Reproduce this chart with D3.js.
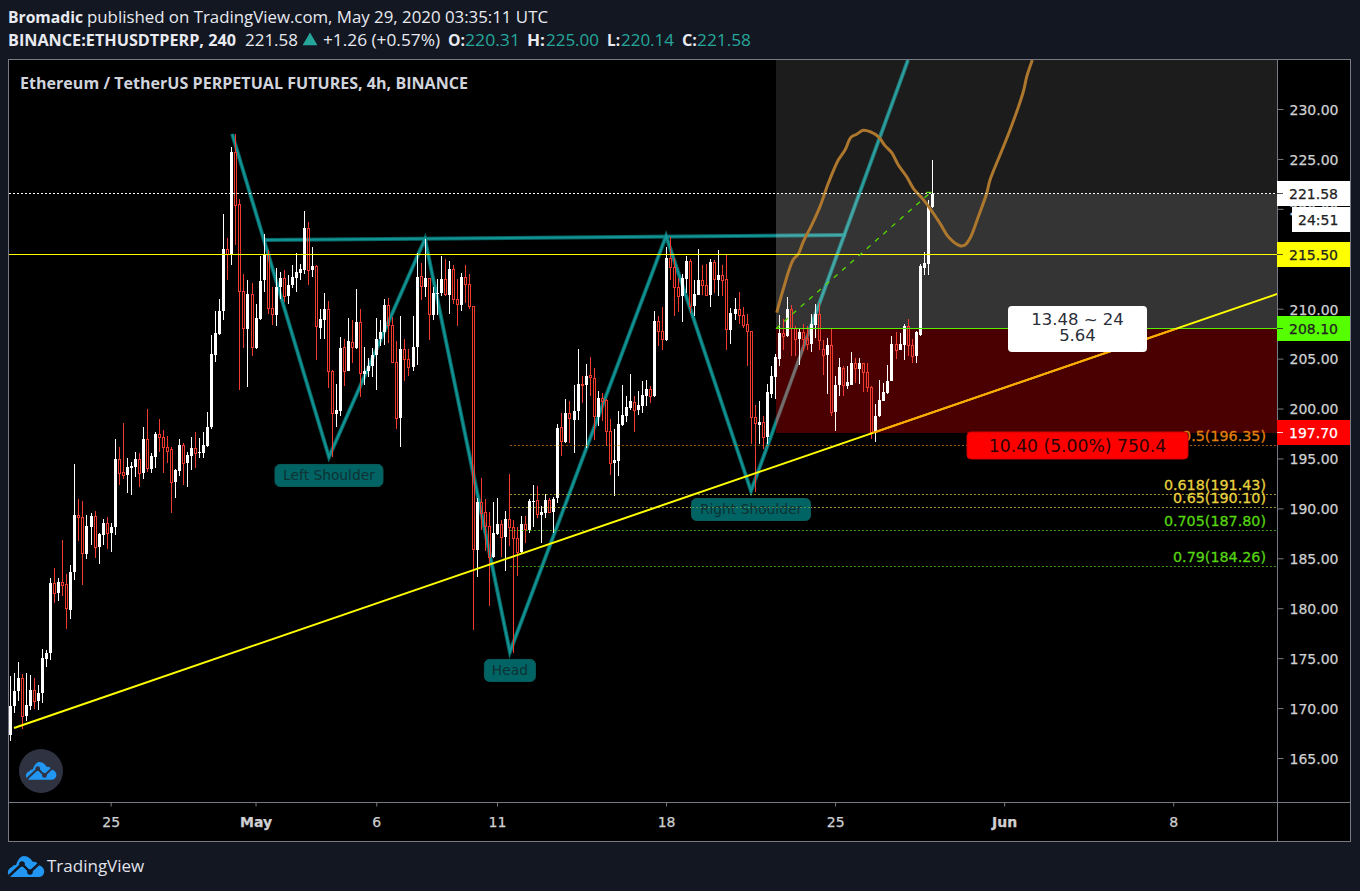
<!DOCTYPE html>
<html><head><meta charset="utf-8">
<script src="https://cdnjs.cloudflare.com/ajax/libs/d3/7.8.5/d3.min.js"></script>
<style>html,body{margin:0;padding:0;background:#131722;overflow:hidden}svg{display:block}</style>
</head><body><svg id="c" width="1360" height="891"></svg>
<script>
const high=[173.28,173.62,174.72,173.52,173.62,173.45,173.12,172.45,176.02,175.95,
183.12,184.12,183.12,186.95,183.55,184.45,194.55,191.02,190.85,189.45,
189.68,189.85,187.62,189.05,189.22,188.62,197.02,196.22,198.62,195.12,
194.78,195.78,195.62,198.22,200.02,195.68,197.78,199.02,197.95,197.35,
196.22,194.02,197.05,196.62,195.78,197.28,197.72,197.12,197.78,199.72,
207.5,209.83,211.1,219.6,217.17,226.27,227.6,221.07,213.6,213.0,
212.67,210.6,215.4,217.6,215.93,212.23,214.2,213.8,214.0,213.5,
214.5,215.67,214.6,219.9,218.8,216.3,214.47,210.1,211.7,210.9,
204.0,202.6,207.27,207.07,209.17,209.0,212.1,210.07,206.23,205.17,
206.17,209.17,209.0,211.07,211.17,209.23,206.9,209.33,207.1,206.1,
209.33,215.67,214.67,217.07,213.17,212.27,213.07,215.4,215.07,214.9,
214.5,213.07,213.67,214.5,213.6,210.4,191.12,193.12,191.02,189.72,
190.72,191.12,188.95,189.88,193.55,188.95,188.28,189.38,189.38,191.02,
192.45,192.35,190.35,191.55,191.12,191.22,198.6,199.67,201.07,200.9,
202.5,206.1,203.33,204.6,205.27,204.17,201.9,201.67,201.07,199.1,
198.1,199.83,202.47,201.33,203.6,201.4,201.83,202.83,203.0,202.4,
209.9,209.4,210.27,216.27,217.27,215.17,213.17,213.6,215.4,215.07,
213.0,216.07,214.5,214.6,215.07,215.0,216.0,214.5,215.5,210.17,
211.13,211.77,210.23,209.57,207.9,200.5,200.83,199.33,202.6,204.33,
205.6,209.5,209.07,211.27,210.5,208.4,208.17,208.57,208.33,209.57,
210.6,210.67,207.0,207.17,208.07,203.33,205.17,204.4,204.4,205.77,
205.17,205.17,204.67,204.67,202.33,200.6,203.0,202.67,204.5,207.4,
207.77,207.67,208.6,209.07,207.07,207.83,214.57,215.77,221.0,225.0];
const low=[166.78,169.62,170.78,168.02,168.78,169.88,170.02,169.88,170.62,174.18,
174.88,180.62,180.85,181.28,178.05,179.05,182.88,186.88,182.45,185.05,
186.45,185.12,184.55,186.45,186.05,185.78,187.45,192.45,193.02,191.68,
191.45,193.28,192.28,193.08,193.78,193.62,194.12,195.78,193.62,194.62,
189.62,191.18,193.35,192.45,192.28,193.95,194.12,195.12,195.12,196.22,
198.1,204.73,207.5,208.93,213.0,214.5,216.5,201.93,206.13,202.23,
205.4,206.1,209.0,211.8,209.6,208.5,208.33,211.1,210.73,210.6,
212.17,211.73,213.0,213.6,212.5,213.3,205.0,207.1,207.03,202.13,
195.23,198.23,199.4,202.4,203.83,204.67,206.1,201.23,202.5,203.23,
203.23,202.0,206.4,206.5,206.67,204.67,198.1,196.2,202.9,203.33,
203.83,204.5,211.0,211.23,207.0,209.0,209.5,211.33,211.33,209.6,
210.6,208.33,209.83,210.67,210.07,177.95,183.18,187.95,185.85,180.35,
185.12,187.45,185.22,183.85,186.35,175.62,183.35,185.62,186.68,187.68,
188.28,189.12,186.68,189.12,189.62,187.62,190.62,195.33,196.67,196.67,
195.6,199.0,200.67,196.17,201.33,196.93,198.4,198.83,196.33,193.4,
191.33,193.33,198.4,198.73,199.93,197.73,199.5,199.67,200.4,200.67,
201.27,206.4,205.93,206.9,213.0,209.33,209.73,208.73,211.67,209.67,
209.33,211.43,211.5,211.33,210.23,211.67,211.4,211.33,206.0,206.6,
209.0,208.57,208.17,204.33,196.57,191.73,196.5,196.0,196.5,201.17,
201.1,204.4,206.0,207.27,205.33,205.33,204.5,205.83,206.0,205.73,
207.17,206.0,203.5,201.6,199.33,197.83,201.33,201.33,202.07,202.43,
202.67,202.6,201.73,201.73,197.07,196.73,199.27,200.83,201.6,202.83,
205.1,205.93,205.0,205.33,204.67,204.67,207.4,213.43,213.5,220.14];
const open=[167.45,170.28,171.78,173.12,169.28,170.35,171.95,170.78,171.62,175.05,
175.62,182.62,181.62,182.72,182.55,179.95,183.68,189.45,189.28,185.55,
188.28,189.35,186.28,187.45,188.62,187.68,188.22,195.02,193.72,193.45,
194.18,194.28,195.02,193.62,197.05,194.05,195.28,197.55,197.22,196.22,
196.05,192.78,193.88,196.45,194.62,195.38,196.12,195.68,195.68,196.38,
198.23,205.5,207.6,209.83,216.1,215.57,225.77,220.6,211.87,208.1,
211.57,206.17,209.1,212.93,215.6,210.17,209.5,212.23,213.2,211.33,
212.43,213.2,213.7,214.0,218.17,213.93,214.4,208.2,209.0,210.07,
203.87,199.6,199.9,206.27,203.9,206.77,206.17,208.77,203.6,203.9,
204.33,205.43,207.07,207.73,210.5,208.5,204.77,199.13,206.1,205.1,
204.23,206.23,213.37,212.27,213.17,209.5,211.6,211.7,213.07,211.5,
214.1,211.07,210.5,213.27,212.57,210.4,185.95,190.72,189.72,188.38,
185.22,187.55,188.52,187.22,189.02,188.28,187.18,185.72,188.52,187.95,
190.78,190.92,189.45,189.68,190.95,189.78,191.17,198.3,196.77,199.7,
199.0,199.83,202.6,202.43,203.5,203.17,199.3,201.17,200.97,197.9,
194.67,194.83,198.5,199.4,200.17,200.77,200.0,200.4,201.33,202.07,
201.33,208.9,207.87,206.93,215.13,214.23,212.27,211.4,213.1,214.9,
210.33,211.5,213.0,212.47,211.5,214.8,213.0,213.47,213.07,208.0,
209.6,210.07,209.47,208.57,207.9,199.27,198.5,198.77,197.23,201.6,
203.23,205.1,207.67,207.33,210.1,208.17,207.1,207.77,207.17,206.57,
208.5,209.57,206.1,205.43,206.5,199.73,202.43,204.17,202.4,202.5,
204.67,204.1,204.67,203.77,202.27,197.73,199.33,200.9,201.7,202.9,
206.57,206.0,206.5,208.33,206.5,205.33,207.5,214.2,214.6,220.31];
const close=[170.35,171.85,173.12,169.28,170.45,171.95,170.78,171.62,175.12,175.62,
182.62,181.62,182.72,182.45,180.08,183.72,189.45,189.28,185.62,188.35,
189.35,186.28,187.52,188.62,187.68,188.28,195.05,193.68,193.48,194.22,
194.35,195.05,193.68,197.05,194.12,195.35,197.55,197.22,196.22,195.88,
192.78,193.95,196.45,194.62,195.45,196.12,195.68,195.72,196.45,198.22,
205.6,207.67,209.9,216.1,215.57,225.8,220.47,211.87,208.13,211.6,
206.23,209.17,212.9,215.6,210.13,209.57,212.3,213.2,211.33,212.5,
213.3,213.8,214.1,218.2,213.93,214.4,208.33,209.1,210.1,203.83,
199.67,200.0,206.17,203.9,206.9,206.27,208.8,203.63,203.9,204.4,
205.5,207.1,207.8,210.5,208.43,204.73,199.13,206.1,205.07,204.27,
206.3,213.3,212.33,213.2,209.53,211.7,211.7,213.07,211.53,214.1,
211.07,210.53,213.27,212.53,210.33,186.02,190.72,189.68,188.38,185.28,
187.62,188.52,187.28,189.02,188.28,187.18,185.78,188.52,188.05,190.85,
190.85,189.52,189.72,190.95,189.78,191.05,198.2,196.83,199.7,199.13,
199.9,202.6,202.5,203.4,203.23,199.33,201.17,200.9,197.83,194.63,
194.9,198.6,199.5,200.27,200.83,200.0,200.5,201.5,202.07,201.33,
208.9,207.83,207.07,215.2,214.23,212.23,211.4,213.2,214.9,210.33,
211.6,213.0,212.43,211.5,214.8,213.07,213.5,213.0,208.07,209.67,
210.07,209.47,208.5,207.83,199.23,198.67,198.77,197.23,201.73,203.33,
205.27,207.7,207.33,210.1,208.17,207.1,207.73,207.1,206.57,208.6,
209.6,206.93,205.43,206.5,199.73,202.5,204.23,202.5,202.8,204.67,
204.17,204.67,203.73,202.23,197.77,199.4,201.0,201.77,202.9,206.57,
206.0,206.6,208.4,206.43,205.33,207.73,214.4,214.67,220.4,221.58];

// Time axis: bar index of each labelled date
const timeTickBars=[25,61,91,121,163,205,247,289];
const timeTickLabels=["25","May","6","11","18","25","Jun","8"];
const priceTicks=[165,170,175,180,185,190,195,200,205,210,215,220,225,230];

// Drawings, as [bar index, price]
const patternPts=[[55.2,227.6],[79.25,195.25],[103.1,217.08],[124.2,175.72],[163.0,217.38],[184.1,191.84],[223.1,235.0]];
const necklinePts=[[63.1,216.98],[207.7,217.48]];
const trendPts=[[1,168.11],[314.8,211.57]];
const projectionPts=[[190.5,209.7],[192.05,211.97],[194.53,214.98],[195.85,215.58],[197.09,216.81],[199.18,218.48],[201.24,220.32],[203.3,222.66],[205.79,224.99],[207.45,225.99],[208.94,227.27],[210.36,227.57],[212.0,227.97],[213.66,227.83],[215.73,227.33],[217.39,226.43],[219.06,225.72],[220.7,224.49],[222.78,223.32],[224.42,222.16],[227.33,220.82],[231.06,218.65],[233.11,217.31],[236.02,216.41],[237.27,216.48],[238.51,217.15],[240.57,219.31],[242.66,221.66],[243.48,222.99],[245.96,225.49],[248.45,227.99],[251.75,231.83],[252.6,233.33],[253.99,235.0]];
const riskLinePts=[[190.3,208.1],[228.6,221.7]];
const riskCapPts=[[227.6,221.75],[229,221.75]];
const fibLevels=["0.5(196.35)","0.618(191.43)","0.65(190.10)","0.705(187.80)","0.79(184.26)"];
const fibPrices=[196.35,191.43,190.10,187.80,184.26];
const fibColors=["#e07f0c","#e8d13f","#e8d13f","#55d411","#55d411"];
const patternLabels=["Left Shoulder","Head","Right Shoulder"];
const patternLabelAt=[[79.25,195.25],[124.2,175.72],[184.1,191.84]];
const patternLabelW=[108,51,119];

const W=1360,H=891,L=9,R=1277,T=60,B=802,AX=1350,TB=841;
const x=d3.scaleLinear().domain([0,230]).range([10,10+4.025*230]);
const y=d3.scaleLinear().domain([165,230]).range([759,110]);
const row=p=>Math.floor(y(p)-.5);
const svg=d3.select("#c");
const DJ="'DejaVu Sans',sans-serif", OS="'Open Sans',sans-serif";

svg.append("rect").attr("width",W).attr("height",H).attr("fill","#131722");
svg.append("rect").attr("x",L-1).attr("y",T-1).attr("width",AX-L+1).attr("height",TB-T+1).attr("fill","#000");
const defs=svg.append("defs");
defs.append("clipPath").attr("id","pane").append("rect").attr("x",L).attr("y",T).attr("width",R-L).attr("height",B-T);
const zoneX=Math.round(x(190.3));
const zT=row(221.58)+1, zM=row(208.1)+1, zB=row(197.7)+1;
defs.append("clipPath").attr("id","redz").append("rect").attr("x",zoneX).attr("y",zM).attr("width",R-zoneX).attr("height",zB-zM);

const g=svg.append("g").attr("clip-path","url(#pane)");
const line=d3.line().x(d=>x(d[0])).y(d=>y(d[1]));
function teal(pts){
  g.append("path").attr("d",line(pts)).attr("fill","none").attr("stroke","#0a8080").attr("stroke-width",4).attr("stroke-opacity",.8);
  g.append("path").attr("d",line(pts)).attr("fill","none").attr("stroke","#15a0a0").attr("stroke-width",2).attr("stroke-opacity",.8);
}
// pattern lines beneath zones
teal(necklinePts);
teal(patternPts);

// zones
const zones=g.append("g").attr("shape-rendering","crispEdges");
zones.append("rect").attr("x",zoneX).attr("y",T).attr("width",R-zoneX).attr("height",zT-T).attr("fill","#fff").attr("fill-opacity",.11);
zones.append("rect").attr("x",zoneX).attr("y",zT).attr("width",R-zoneX).attr("height",zM-zT).attr("fill","#fff").attr("fill-opacity",.205);
zones.append("rect").attr("x",zoneX).attr("y",zM).attr("width",R-zoneX).attr("height",zB-zM).attr("fill","#8c0000").attr("fill-opacity",.53);
g.append("path").attr("d",line(patternPts)).attr("fill","none").attr("stroke","#8f8f8f").attr("stroke-width",3).attr("stroke-opacity",.55).attr("clip-path","url(#redz)");

// candles
const bars=d3.range(close.length);
const red="#f23b2f";
const cg=g.append("g").attr("shape-rendering","crispEdges");
bars.forEach(i=>{
  const X=Math.round(x(i)), up=close[i]>=open[i];
  const top=Math.round(y(Math.max(open[i],close[i]))), bot=Math.round(y(Math.min(open[i],close[i])));
  const yh=Math.round(y(high[i])), yl=Math.round(y(low[i]));
  if(up){
    cg.append("rect").attr("x",X).attr("y",yh).attr("width",1).attr("height",Math.max(1,yl-yh)).attr("fill","#fff");
    cg.append("rect").attr("x",X-1).attr("y",top).attr("width",3).attr("height",Math.max(1,bot-top)).attr("fill","#fff");
  }else{
    if(top>yh)cg.append("rect").attr("x",X).attr("y",yh).attr("width",1).attr("height",top-yh).attr("fill",red);
    if(yl>bot)cg.append("rect").attr("x",X).attr("y",bot).attr("width",1).attr("height",yl-bot).attr("fill",red);
    cg.append("rect").attr("x",X-.5).attr("y",top+.5).attr("width",2).attr("height",Math.max(1,bot-top)).attr("fill","none").attr("stroke",red);
  }
});

// fib levels
fibPrices.forEach((p,i)=>{
  g.append("line").attr("x1",x(124.2)).attr("x2",R).attr("y1",row(p)+.5).attr("y2",row(p)+.5)
   .attr("stroke",fibColors[i]).attr("stroke-opacity",.72).attr("stroke-dasharray","2 2");
});

// projected path
g.append("path").attr("d",d3.line().curve(d3.curveCatmullRom).x(d=>x(d[0])).y(d=>y(d[1]))(projectionPts))
 .attr("fill","none").attr("stroke","#ad782d").attr("stroke-width",3);

// horizontal price lines
g.append("line").attr("x1",L).attr("x2",R).attr("y1",row(221.58)+.5).attr("y2",row(221.58)+.5).attr("stroke","#fff").attr("stroke-dasharray","2 2");
g.append("line").attr("x1",L).attr("x2",R).attr("y1",row(215.5)+.5).attr("y2",row(215.5)+.5).attr("stroke","#ffff00");
g.append("line").attr("x1",zoneX).attr("x2",R).attr("y1",row(208.1)+.5).attr("y2",row(208.1)+.5).attr("stroke","#55f000");
g.append("path").attr("d",line(riskLinePts)).attr("fill","none").attr("stroke","#55d800").attr("stroke-width",1.3).attr("stroke-dasharray","5 6");
g.append("path").attr("d",line(riskCapPts)).attr("fill","none").attr("stroke","#55d800").attr("stroke-width",1.2);

// rising trend line
g.append("path").attr("d",line(trendPts)).attr("fill","none").attr("stroke","#ffff00").attr("stroke-width",2);
g.append("path").attr("d",line(trendPts)).attr("fill","none").attr("stroke","#ffa800").attr("stroke-width",2).attr("clip-path","url(#redz)");

// fib labels
fibLevels.forEach((t,i)=>{
  g.append("text").attr("x",1266).attr("y",Math.round(y(fibPrices[i]))-10).attr("dy",".36em").attr("text-anchor","end")
   .attr("font-family",DJ).attr("font-size",14.3).attr("fill",fibColors[i]).attr("stroke",fibColors[i]).attr("stroke-width",.3).text(t);
});

// pattern labels
patternLabels.forEach((t,i)=>{
  const cx=x(patternLabelAt[i][0]), top=y(patternLabelAt[i][1])+7.5;
  g.append("rect").attr("x",cx-patternLabelW[i]/2).attr("y",top).attr("width",patternLabelW[i]).attr("height",22).attr("rx",5)
    .attr("fill","#006464").attr("stroke","#0c5c5c");
  g.append("text").attr("x",cx).attr("y",top+11).attr("dy",".36em").attr("text-anchor","middle").attr("font-family",DJ).attr("font-size",13.8).attr("fill","#0f3234").text(t);
});
// fib 0.65 sits faintly across the Right Shoulder label
g.append("line").attr("x1",692).attr("x2",811).attr("y1",row(190.1)+.5).attr("y2",row(190.1)+.5).attr("stroke",fibColors[2]).attr("stroke-opacity",.4).attr("stroke-dasharray","2 2");

// position boxes
g.append("rect").attr("x",1008).attr("y",306).attr("width",139).attr("height",46).attr("rx",4).attr("fill","#fff");
g.append("text").attr("x",1077.5).attr("y",319).attr("dy",".36em").attr("text-anchor","middle").attr("font-family",DJ).attr("font-size",16.5).attr("fill","#2a2e39").text("13.48 ~ 24");
g.append("text").attr("x",1077.5).attr("y",335.5).attr("dy",".36em").attr("text-anchor","middle").attr("font-family",DJ).attr("font-size",16.5).attr("fill","#2a2e39").text("5.64");
g.append("rect").attr("x",967).attr("y",432).attr("width",221).attr("height",27).attr("rx",4).attr("fill","#ff0000").attr("stroke","#d00000");
g.append("text").attr("x",1077.5).attr("y",445.5).attr("dy",".36em").attr("text-anchor","middle").attr("font-family",DJ).attr("font-size",17.2).attr("fill","#2a0505").text("10.40 (5.00%) 750.4");

// title
svg.append("text").attr("x",20).attr("y",83).attr("dy",".36em").attr("font-family",OS).attr("font-weight",700).attr("font-size",15.5).attr("fill","#d1d4dc")
  .attr("textLength",448).attr("lengthAdjust","spacingAndGlyphs").text("Ethereum / TetherUS PERPETUAL FUTURES, 4h, BINANCE");

// axes
const yAxis=d3.axisRight(y).tickValues(priceTicks).tickSize(6).tickPadding(6).offset(-.5).tickFormat(d3.format(".2f"));
const ya=svg.append("g").attr("transform",`translate(${R+.5},0)`).call(yAxis);
ya.select(".domain").remove();
ya.selectAll("line").attr("stroke","#787b86");
ya.selectAll("text").attr("dy",".38em").attr("font-family",DJ).attr("font-size",14).attr("fill","#cfd0d2").attr("stroke","#cfd0d2").attr("stroke-width",.25);

const xAxis=d3.axisBottom(x).tickValues(timeTickBars).tickSize(4).tickPadding(11).tickFormat((d,i)=>timeTickLabels[i]);
const xa=svg.append("g").attr("transform",`translate(0,${B+.5})`).call(xAxis);
xa.select(".domain").remove();
xa.selectAll("line").attr("stroke","#787b86");
xa.selectAll("text").attr("font-family",DJ).attr("font-size",14).attr("fill","#cfd0d2").attr("stroke","#cfd0d2").attr("stroke-width",.25).attr("font-weight",d=>(d===61||d===247)?"bold":"normal");

// frame
svg.append("rect").attr("x",L-.5).attr("y",T-.5).attr("width",AX-L+1).attr("height",TB-T+1).attr("fill","none").attr("stroke","#787b86");
svg.append("line").attr("x1",L).attr("x2",AX).attr("y1",B+.5).attr("y2",B+.5).attr("stroke","#787b86");
svg.append("line").attr("x1",R+.5).attr("x2",R+.5).attr("y1",T).attr("y2",TB).attr("stroke","#787b86");

// price tags
function tag(p,fill,color,label){
  const Y=row(p);
  svg.append("rect").attr("x",R).attr("y",Y-12).attr("width",AX-R).attr("height",25).attr("fill",fill);
  svg.append("line").attr("x1",R).attr("x2",R+6).attr("y1",Y+.5).attr("y2",Y+.5).attr("stroke",color).attr("stroke-opacity",.8);
  svg.append("text").attr("x",R+12).attr("y",Y+.5).attr("dy",".36em").attr("font-family",DJ).attr("font-size",14).attr("fill",color).attr("stroke",color).attr("stroke-width",.25).text(label);
}
tag(221.58,"#ffffff","#222","221.58");
svg.append("rect").attr("x",1292).attr("y",207).attr("width",AX-1292).attr("height",25).attr("fill","#fff");
svg.append("text").attr("x",1298).attr("y",219.5).attr("dy",".36em").attr("font-family",DJ).attr("font-size",14).attr("fill","#222").attr("stroke","#222").attr("stroke-width",.25).text("24:51");
tag(215.5,"#ffff00","#222","215.50");
tag(208.1,"#55ff00","#222","208.10");
tag(197.7,"#ff0000","#fff","197.70");

// logos
function logo(px,py,s,lineCol){
  const l=svg.append("g").attr("transform",`translate(${px},${py}) scale(${s})`);
  l.append("path").attr("d","M4,21 C-1,21 -2,13 4,11 C5,9 7,9 8,9 C10,3 13,0 16,0 C20,0 23,3 25,6 C27,5 29,6 30,9 C35,10 37,14 36,17 C35,20 33,21 31,21 Z").attr("fill","#2196f3");
  l.append("path").attr("d","M0,21 L14,8 L22,16 L35,4").attr("fill","none").attr("stroke",lineCol).attr("stroke-width",2.4);
  l.append("circle").attr("cx",14).attr("cy",8).attr("r",2.8).attr("fill",lineCol);
  l.append("circle").attr("cx",22).attr("cy",16).attr("r",2.8).attr("fill",lineCol);
}
svg.append("circle").attr("cx",41).attr("cy",771).attr("r",22).attr("fill","#2f3241");
logo(26,762,.84,"#2f3241");
logo(8,856,1,"#131722");
svg.append("text").attr("x",47).attr("y",866).attr("dy",".36em").attr("font-family",OS).attr("font-size",17).attr("fill","#e0e3eb").text("TradingView");

// header
function hd(X,Y,t,opts){
  const o=opts||{};
  const e=svg.append("text").attr("x",X).attr("y",Y).attr("dy",".36em").attr("font-family",OS).attr("font-size",16).attr("fill",o.c||"#e8eaf0").attr("font-weight",o.b?700:400).text(t);
  if(o.w)e.attr("textLength",o.w).attr("lengthAdjust","spacingAndGlyphs");
}
hd(8,17,"Bromadic",{b:1,w:75});
hd(87,17,"published on TradingView.com, May 29, 2020 03:35:11 UTC",{w:461});
hd(8,40,"BINANCE:ETHUSDTPERP, 240",{b:1,w:228});
hd(245,40,"221.58",{w:53});
svg.append("path").attr("transform","translate(310,41)").attr("d",d3.symbol().type(d3.symbolTriangle).size(95)()).attr("fill","#26a69a");
hd(323,40,"+1.26 (+0.57%)",{w:117});
const tealText="#26a69a";
hd(448,40,"O:",{b:1,w:17}); hd(465,40,"220.31",{c:tealText,w:55});
hd(527,40,"H:",{b:1,w:18}); hd(546,40,"225.00",{c:tealText,w:53});
hd(607,40,"L:",{b:1,w:13}); hd(621,40,"220.14",{c:tealText,w:53});
hd(682,40,"C:",{b:1,w:15}); hd(697,40,"221.58",{c:tealText,w:54});
</script></body></html>
